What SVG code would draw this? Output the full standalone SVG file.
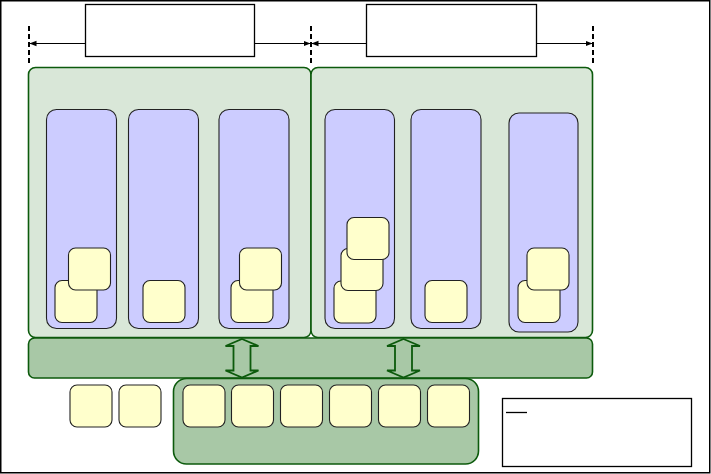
<svg xmlns="http://www.w3.org/2000/svg" width="711" height="474" viewBox="0 0 711 474">
<style>
.frame{fill:#fff;stroke:#000;stroke-width:1.5}
.label{fill:#fff;stroke:#000;stroke-width:1.3}
.dash{stroke:#000;stroke-width:2;stroke-dasharray:5 3;fill:none}
.dim{stroke:#000;stroke-width:1.2;fill:none;marker-end:url(#ah)}
.panel{fill:#d9e7d8;stroke:#0c5a0c;stroke-width:1.6}
.band{fill:#a8c8a6;stroke:#0c5a0c;stroke-width:1.6}
.col{fill:#ccccff;stroke:#222;stroke-width:1.1}
.chip{fill:#ffffcc;stroke:#222;stroke-width:1.1}
.barrow{fill:#a8c8a6;stroke:#0c5a0c;stroke-width:1.8;stroke-linejoin:miter}
</style>
<defs>
<marker id="ah" viewBox="0 0 10 10" refX="10" refY="5" markerWidth="7" markerHeight="7" orient="auto" markerUnits="userSpaceOnUse">
<path d="M0,1 L10,5 L0,9 z" fill="#000"/>
</marker>
</defs>
<rect class="frame" x="0.75" y="0.75" width="709" height="472"/>

<g id="dimensions">
<line class="dash" x1="29" y1="26" x2="29" y2="66"/>
<line class="dash" x1="311" y1="26" x2="311" y2="66"/>
<line class="dash" x1="593" y1="26" x2="593" y2="66"/>
<line class="dim" x1="86" y1="43.5" x2="29.5" y2="43.5"/>
<line class="dim" x1="254" y1="43.5" x2="310.5" y2="43.5"/>
<line class="dim" x1="367" y1="43.5" x2="311.5" y2="43.5"/>
<line class="dim" x1="536" y1="43.5" x2="592.5" y2="43.5"/>
</g>
<g id="label1"><rect class="label" x="85.5" y="4.5" width="169" height="52"/></g>
<g id="label2"><rect class="label" x="366.5" y="4.5" width="170" height="52"/></g>

<g id="panel1"><rect class="panel" x="28.5" y="67.5" width="282.5" height="270" rx="7"/></g>
<g id="panel2"><rect class="panel" x="311" y="67.5" width="281.5" height="270" rx="7"/></g>
<g id="band"><rect class="band" x="28.5" y="338" width="564" height="40" rx="6"/></g>
<g id="container"><rect class="band" x="173.5" y="378.5" width="305" height="85.5" rx="13"/></g>

<g id="col1"><rect class="col" x="46.5" y="109.5" width="70" height="219" rx="10"/></g>
<g id="col2"><rect class="col" x="128.5" y="109.5" width="70" height="219" rx="10"/></g>
<g id="col3"><rect class="col" x="219" y="109.5" width="70" height="219" rx="10"/></g>
<g id="col4"><rect class="col" x="325" y="109.5" width="69.5" height="219" rx="10"/></g>
<g id="col5"><rect class="col" x="411" y="109.5" width="70" height="219" rx="10"/></g>
<g id="col6"><rect class="col" x="509" y="113" width="69" height="219" rx="10"/></g>

<g id="chip1a"><rect class="chip" x="55" y="280.5" width="42" height="42" rx="7"/></g>
<g id="chip1b"><rect class="chip" x="68.5" y="248" width="42" height="42" rx="7"/></g>
<g id="chip2a"><rect class="chip" x="143" y="280.5" width="42" height="42" rx="7"/></g>
<g id="chip3a"><rect class="chip" x="231" y="280.5" width="42" height="42" rx="7"/></g>
<g id="chip3b"><rect class="chip" x="239.5" y="248" width="42" height="42" rx="7"/></g>
<g id="chip4a"><rect class="chip" x="334" y="281" width="42" height="42" rx="7"/></g>
<g id="chip4b"><rect class="chip" x="341" y="248.5" width="42" height="42" rx="7"/></g>
<g id="chip4c"><rect class="chip" x="347" y="217.5" width="42" height="42" rx="7"/></g>
<g id="chip5a"><rect class="chip" x="425" y="280.5" width="42" height="42" rx="7"/></g>
<g id="chip6a"><rect class="chip" x="518" y="280.5" width="42" height="42" rx="7"/></g>
<g id="chip6b"><rect class="chip" x="527" y="248" width="42" height="42" rx="7"/></g>

<g id="bchip1"><rect class="chip" x="70" y="385" width="42" height="42" rx="7"/></g>
<g id="bchip2"><rect class="chip" x="119" y="385" width="42" height="42" rx="7"/></g>
<g id="bchip3"><rect class="chip" x="183" y="385" width="42" height="42" rx="7"/></g>
<g id="bchip4"><rect class="chip" x="231.5" y="385" width="42" height="42" rx="7"/></g>
<g id="bchip5"><rect class="chip" x="280.5" y="385" width="42" height="42" rx="7"/></g>
<g id="bchip6"><rect class="chip" x="329.5" y="385" width="42" height="42" rx="7"/></g>
<g id="bchip7"><rect class="chip" x="378.5" y="385" width="42" height="42" rx="7"/></g>
<g id="bchip8"><rect class="chip" x="427.5" y="385" width="42" height="42" rx="7"/></g>

<g id="connectors">
<path class="barrow" d="M242,339 L258.5,346 L250.5,346 L250.5,370.5 L258.5,370.5 L242,377.5 L225.5,370.5 L233.5,370.5 L233.5,346 L225.5,346 Z"/>
<path class="barrow" d="M403.5,339 L420,346 L412,346 L412,370.5 L420,370.5 L403.5,377.5 L387,370.5 L395,370.5 L395,346 L387,346 Z"/>
</g>

<g id="legend">
<rect class="label" x="502.5" y="398.5" width="189" height="68"/>
<line x1="506" y1="412.5" x2="527" y2="412.5" stroke="#000" stroke-width="1.3"/>
</g>
</svg>
